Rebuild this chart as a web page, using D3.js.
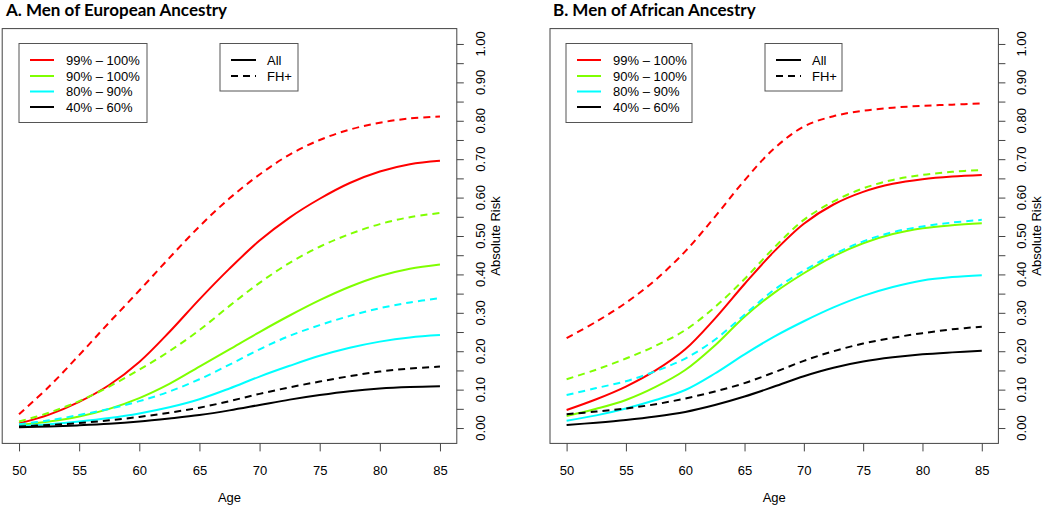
<!DOCTYPE html>
<html><head><meta charset="utf-8">
<script src="https://cdn.jsdelivr.net/npm/d3@7"></script>
<style>body{margin:0;background:#fff}svg{display:block}</style>
</head><body>
<svg id="chart" width="1050" height="509"></svg>
<script>
const ages = [50,52.5,55,57.5,60,62.5,65,67.5,70,72.5,75,77.5,80,82.5,85];
const groups = ["99% \u2013 100%","90% \u2013 100%","80% \u2013 90%","40% \u2013 60%"];
const groupColors = ["#ff0000","#7fff00","#00ffff","#000000"];
const xTicks = [50,55,60,65,70,75,80,85];
const yTickLabels = ["0.00","0.10","0.20","0.30","0.40","0.50","0.60","0.70","0.80","0.90","1.00"];

// Men of European Ancestry
const eurAll99 = [0.012,0.035,0.068,0.112,0.172,0.25,0.335,0.415,0.488,0.548,0.597,0.638,0.668,0.687,0.696];
const eurAll90 = [0.008,0.017,0.03,0.05,0.078,0.115,0.16,0.205,0.25,0.293,0.333,0.368,0.396,0.415,0.426];
const eurAll80 = [0.005,0.01,0.017,0.026,0.038,0.054,0.075,0.103,0.134,0.162,0.188,0.209,0.225,0.236,0.242];
const eurAll40 = [0.002,0.004,0.007,0.011,0.017,0.025,0.034,0.046,0.06,0.074,0.086,0.096,0.103,0.107,0.109];
const eurFH99 = [0.036,0.108,0.19,0.275,0.358,0.443,0.525,0.598,0.66,0.712,0.75,0.777,0.795,0.806,0.811];
const eurFH90 = [0.017,0.04,0.07,0.108,0.152,0.2,0.255,0.318,0.378,0.43,0.472,0.505,0.531,0.549,0.56];
const eurFH80 = [0.010,0.02,0.034,0.05,0.07,0.095,0.127,0.165,0.205,0.24,0.268,0.292,0.312,0.327,0.338];
const eurFH40 = [0.004,0.008,0.013,0.02,0.029,0.04,0.053,0.07,0.089,0.106,0.121,0.135,0.147,0.155,0.16];

// Men of African Ancestry
const afrAll99 = [0.047,0.075,0.108,0.15,0.205,0.285,0.375,0.46,0.532,0.582,0.615,0.636,0.648,0.655,0.659];
const afrAll90 = [0.031,0.05,0.073,0.107,0.151,0.215,0.29,0.352,0.403,0.447,0.481,0.505,0.52,0.528,0.533];
const afrAll80 = [0.019,0.033,0.051,0.073,0.099,0.142,0.192,0.238,0.278,0.314,0.344,0.367,0.384,0.393,0.398];
const afrAll40 = [0.008,0.014,0.021,0.03,0.042,0.06,0.082,0.108,0.135,0.157,0.173,0.184,0.192,0.197,0.201];
const afrFH99 = [0.234,0.277,0.326,0.386,0.46,0.55,0.645,0.728,0.785,0.812,0.826,0.834,0.839,0.842,0.845];
const afrFH90 = [0.127,0.152,0.181,0.214,0.255,0.315,0.388,0.47,0.542,0.59,0.624,0.646,0.659,0.667,0.672];
const afrFH80 = [0.086,0.104,0.122,0.148,0.181,0.23,0.295,0.36,0.41,0.452,0.486,0.51,0.525,0.535,0.542];
const afrFH40 = [0.036,0.043,0.051,0.062,0.077,0.095,0.117,0.145,0.175,0.2,0.22,0.235,0.247,0.257,0.264];

const panels = [
  {title:"A. Men of European Ancestry", left:2.2, right:456.8, titleX:6,
   all:[eurAll99,eurAll90,eurAll80,eurAll40], fh:[eurFH99,eurFH90,eurFH80,eurFH40],
   leg1:{x:19,w:128}, leg2:{x:220,w:78}},
  {title:"B. Men of African Ancestry", left:550, right:998.4, titleX:553,
   all:[afrAll99,afrAll90,afrAll80,afrAll40], fh:[afrFH99,afrFH90,afrFH80,afrFH40],
   leg1:{x:566,w:126}, leg2:{x:765,w:77}}
];

const svg = d3.select("#chart");
const plotTop = 28.6, plotBottom = 443.4;
const font = "'Liberation Sans', Arial, Helvetica, sans-serif";

panels.forEach(p => {
  const g = svg.append("g");
  const x = d3.scaleLinear().domain([48.6, 86.4]).range([p.left, p.right]);
  const y = d3.scaleLinear().domain([-0.04, 1.04]).range([plotBottom, plotTop]);

  g.append("text").attr("x", p.titleX).attr("y", 16)
    .attr("font-family", "Lato, 'Open Sans', sans-serif").attr("font-weight", "bold")
    .attr("font-size", 17).attr("fill", "#000").text(p.title);

  const line = d3.line().x((d,i) => x(ages[i])).y(d => y(d)).curve(d3.curveCatmullRom.alpha(0.5));
  p.all.forEach((s,i) => {
    g.append("path").attr("d", line(s)).attr("fill","none")
      .attr("stroke", groupColors[i]).attr("stroke-width", 2);
  });
  p.fh.forEach((s,i) => {
    g.append("path").attr("d", line(s)).attr("fill","none")
      .attr("stroke", groupColors[i]).attr("stroke-width", 2).attr("stroke-dasharray","7,5");
  });

  g.append("rect").attr("x", p.left).attr("y", plotTop).attr("width", p.right - p.left)
    .attr("height", plotBottom - plotTop).attr("fill","none").attr("stroke","#444").attr("stroke-width",1);

  const xa = g.append("g").attr("transform", `translate(0,${plotBottom})`)
    .call(d3.axisBottom(x).tickValues(xTicks).tickSize(8).tickSizeOuter(0).tickPadding(14));
  xa.select(".domain").remove();
  xa.selectAll("line").attr("stroke","#444");
  xa.selectAll("text").attr("font-family", font).attr("font-size", 13).attr("fill","#000");

  const yTickVals = d3.range(0, 21).map(i => i * 0.05);
  const ya = g.append("g").attr("transform", `translate(${p.right},0)`)
    .call(d3.axisRight(y).tickValues(yTickVals).tickSize(7).tickFormat(""));
  ya.select(".domain").remove();
  ya.selectAll("line").attr("stroke","#444");
  yTickLabels.forEach(lab => {
    const v = +lab;
    g.append("text").attr("transform", `translate(${p.right + 28},${y(v)}) rotate(-90)`)
      .attr("text-anchor","middle").attr("font-family", font).attr("font-size", 13)
      .attr("fill","#000").text(lab);
  });
  g.append("text").attr("transform", `translate(${p.right + 43},${y(0.5)}) rotate(-90)`)
    .attr("text-anchor","middle").attr("font-family", font).attr("font-size", 13)
    .attr("fill","#000").text("Absolute Risk");
  g.append("text").attr("x", (x(50)+x(85))/2).attr("y", 502).attr("text-anchor","middle")
    .attr("font-family", font).attr("font-size", 13).attr("fill","#000").text("Age");

  const rowY = [60, 76, 91.5, 107];
  g.append("rect").attr("x", p.leg1.x).attr("y", 43.5).attr("width", p.leg1.w).attr("height", 79)
    .attr("fill","#fff").attr("stroke","#555").attr("stroke-width",1);
  groups.forEach((name,i) => {
    g.append("line").attr("x1", p.leg1.x + 11).attr("x2", p.leg1.x + 35)
      .attr("y1", rowY[i]).attr("y2", rowY[i]).attr("stroke", groupColors[i]).attr("stroke-width",2);
    g.append("text").attr("x", p.leg1.x + 47).attr("y", rowY[i] + 4.5)
      .attr("font-family", font).attr("font-size", 13).attr("fill","#000").text(name);
  });
  g.append("rect").attr("x", p.leg2.x).attr("y", 43.5).attr("width", p.leg2.w).attr("height", 47.5)
    .attr("fill","#fff").attr("stroke","#555").attr("stroke-width",1);
  ["All","FH+"].forEach((name,i) => {
    g.append("line").attr("x1", p.leg2.x + 11).attr("x2", p.leg2.x + 36)
      .attr("y1", rowY[i]).attr("y2", rowY[i]).attr("stroke", "#000").attr("stroke-width",2)
      .attr("stroke-dasharray", i === 1 ? "7,5" : null);
    g.append("text").attr("x", p.leg2.x + 47).attr("y", rowY[i] + 4.5)
      .attr("font-family", font).attr("font-size", 13).attr("fill","#000").text(name);
  });
});
</script>
</body></html>
